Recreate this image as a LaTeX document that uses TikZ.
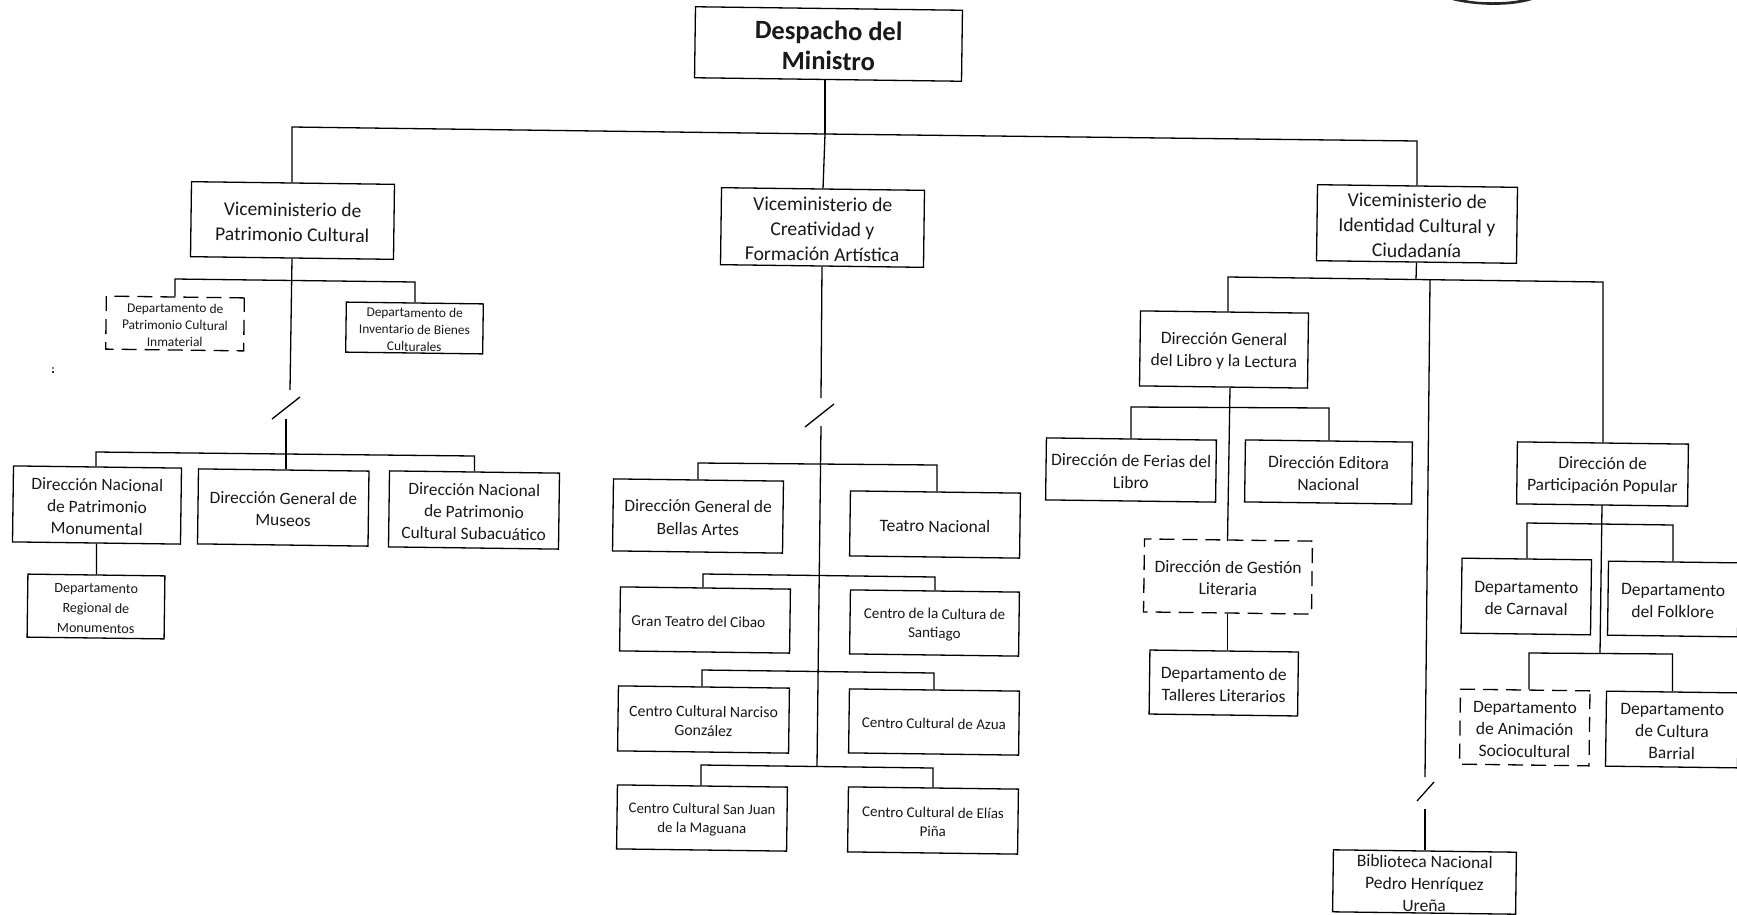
\documentclass[tikz,border=0pt]{standalone}
\usepackage{fontspec}
\setmainfont{Carlito}
\newcommand\bx[9][solidbox]{%
  \pgfmathsetmacro\bxcx{(#3+#5)/2}\pgfmathsetmacro\bxcy{(#4+#6)/2}%
  \pgfmathsetmacro\bxw{#5-#3}\pgfmathsetmacro\bxh{#6-#4}%
  \node[#1,minimum width=\bxw pt,minimum height=\bxh pt,font=\fontsize{#7}{#8}\selectfont] (#2) at (\bxcx,\bxcy) {\rule{0pt}{\dimexpr0.73em+2.6pt\relax}#9};}
\tikzset{
  solidbox/.style={draw=black,line width=1.3pt,inner sep=0pt,align=center,rotate=-0.75,text=black!90},
  dashbox/.style={solidbox,dash pattern=on 15pt off 8pt},
  conn/.style={draw=black,line width=1.3pt,line join=miter}
}
\begin{document}
\begin{tikzpicture}[x=1pt,y=-1pt]
\useasboundingbox (0,0) rectangle (1737,914);
% top
\bx{min}{695}{8.5}{962}{79.5}{26.5}{30}{\bfseries Despacho del\\\bfseries Ministro}
\bx{vmA}{191}{183}{394}{258}{19.5}{25}{Viceministerio de\\Patrimonio Cultural}
\bx{vmB}{721}{189}{924}{266}{19.7}{25}{Viceministerio de\\Creatividad y\\Formación Artística}
\bx{vmC}{1317}{186}{1517}{262}{19.7}{25}{Viceministerio de\\Identidad Cultural y\\Ciudadanía}
\coordinate (mL) at (292,127); \coordinate (mR) at (1417,141); \coordinate (mC) at (825,134);
\draw[conn] (mC |- min.south) -- (mC);
\draw[conn] (mC) -- (vmB.north);
\draw[conn] (vmA.north -| mL) -- (mL) -- (mC) -- (mR) -- (mR |- vmC.north);
% left branch
\bx[dashbox]{depA}{106}{297}{244}{350}{13.4}{17}{Departamento de\\Patrimonio Cultural\\Inmaterial}
\bx{depB}{346}{303}{483}{353}{13.4}{17}{Departamento de\\Inventario de Bienes\\Culturales}
\coordinate (aL) at (175,279); \coordinate (aR) at (415,282); \coordinate (aS) at (290,390);
\coordinate (aT) at (286,419); \coordinate (aK1) at (272,419); \coordinate (aK2) at (300,397);
\draw[conn] (vmA.south) -- (aS);
\draw[conn] (depA.north -| aL) -- (aL) -- (aR) -- (aR |- depB.north);
\draw[conn] (aK1) -- (aK2);
\bx{dnpm}{13}{467}{181}{543}{17.4}{22}{Dirección Nacional\\de Patrimonio\\Monumental}
\bx{dgm}{198}{470}{368.5}{545}{17.4}{22}{Dirección General de\\Museos}
\bx{dnpc}{389}{472}{559}{548}{17.4}{22}{Dirección Nacional\\de Patrimonio\\Cultural Subacuático}
\bx{drm}{27.5}{575}{164.5}{638}{14.1}{20}{Departamento\\Regional de\\Monumentos}
\coordinate (cL) at (96,452); \coordinate (cR) at (474.5,456);
\draw[conn] (aT) -- (aT |- dgm.north);
\draw[conn] (dnpm.north -| cL) -- (cL) -- (cR) -- (cR |- dnpc.north);
\draw[conn] (dnpm.south) -- (drm.north);
% middle branch
\coordinate (dS) at (821,398); \coordinate (dK1) at (805,427); \coordinate (dK2) at (834,404);
\coordinate (dT) at (821,426); \coordinate (dE) at (817,766);
\draw[conn] (vmB.south) -- (dS);
\draw[conn] (dK1) -- (dK2);
\draw[conn] (dT) -- (dE);
\bx{dgba}{613}{480}{783}{552}{17.4}{23}{Dirección General de\\Bellas Artes}
\bx{tn}{850}{492}{1020}{557}{17.5}{23}{Teatro Nacional}
\bx{gtc}{620}{588}{790}{652}{15.3}{19}{Gran Teatro del Cibao\hspace*{13pt}}
\bx{ccs}{850}{591}{1019}{655}{15.1}{19}{Centro de la Cultura de\\Santiago}
\bx{ccn}{618}{687}{789}{752}{15.8}{19}{Centro Cultural Narciso\\González}
\bx{cca}{849}{690}{1019}{754}{15}{19}{Centro Cultural de Azua}
\bx{ccj}{617}{786}{787}{850}{14.8}{19}{Centro Cultural San Juan\\de la Maguana}
\bx{cce}{848}{788}{1018}{853}{15}{19}{Centro Cultural de Elías\\Piña}
\coordinate (e1L) at (698,463); \coordinate (e1R) at (937,465);
\coordinate (e2L) at (703,574); \coordinate (e2R) at (935,577);
\coordinate (e3L) at (702,670); \coordinate (e3R) at (934,673);
\coordinate (e4L) at (701,765); \coordinate (e4R) at (933,768);
\draw[conn] (dgba.north -| e1L) -- (e1L) -- (e1R) -- (e1R |- tn.north);
\draw[conn] (gtc.north -| e2L) -- (e2L) -- (e2R) -- (e2R |- ccs.north);
\draw[conn] (ccn.north -| e3L) -- (e3L) -- (e3R) -- (e3R |- cca.north);
\draw[conn] (ccj.north -| e4L) -- (e4L) -- (e4R) -- (e4R |- cce.north);
% right branch
\coordinate (fL) at (1228,277); \coordinate (fR) at (1603,282); \coordinate (fC) at (1416,279.5);
\coordinate (fM) at (1430,280); \coordinate (fS) at (1425,777); \coordinate (fK1) at (1417,801);
\coordinate (fK2) at (1434,782); \coordinate (fT) at (1425,809);
\bx{dgl}{1140}{312}{1308}{387}{17.5}{22}{Dirección General\\del Libro y la Lectura}
\bx{dfl}{1046}{439}{1216}{501}{17.5}{22}{Dirección de Ferias del\\Libro}
\bx{den}{1245}{441}{1412}{503}{17.5}{22}{Dirección Editora\\Nacional}
\bx[dashbox]{dgs}{1144}{540}{1312}{613}{17.5}{22}{Dirección de Gestión\\Literaria}
\bx{dtl}{1149.5}{651}{1298}{715}{17.5}{22}{Departamento de\\Talleres Literarios}
\bx{dpp}{1517}{443}{1688}{505}{17.5}{22}{Dirección de\\Participación Popular}
\bx{dcar}{1461.5}{559}{1591}{634}{17.5}{22}{Departamento\\de Carnaval}
\bx{dfol}{1608}{562}{1738}{636}{17.5}{22}{Departamento\\del Folklore}
\bx[dashbox]{dani}{1460}{690}{1589.5}{765}{17.5}{22}{Departamento\\de Animación\\Sociocultural}
\bx{dcb}{1606}{692}{1738}{767}{17.5}{22}{Departamento\\de Cultura\\Barrial}
\bx{bib}{1333}{851}{1516}{913}{17.5}{22}{Biblioteca Nacional\\Pedro Henríquez\\Ureña}
\draw[conn] (vmC.south) -- (fC);
\draw[conn] (dgl.north -| fL) -- (fL) -- (fR) -- (fR |- dpp.north);
\draw[conn] (fM) -- (fS);
\draw[conn] (fK1) -- (fK2);
\draw[conn] (fT) -- (fT |- bib.north);
\coordinate (gT) at (1230,388); \coordinate (gL) at (1131,407); \coordinate (gR) at (1329,408);
\coordinate (gE) at (1227.5,541);
\draw[conn] (gT) -- (gE);
\draw[conn] (dfl.north -| gL) -- (gL) -- (gR) -- (gR |- den.north);
\draw[conn] (dgs.south) -- (dgs.south |- dtl.north);
\coordinate (hT) at (1602,505); \coordinate (hE) at (1600,653);
\coordinate (hL) at (1527,523); \coordinate (hR) at (1673,525);
\coordinate (iL) at (1529,653); \coordinate (iR) at (1672.5,654);
\draw[conn] (hT) -- (hE);
\draw[conn] (dcar.north -| hL) -- (hL) -- (hR) -- (hR |- dfol.north);
\draw[conn] (dani.north -| iL) -- (iL) -- (iR) -- (iR |- dcb.north);
% scan specks and seal fragment
\fill[black!50] (52,366.5) rectangle (54,368.5);
\fill[black!80] (52,371) rectangle (54,373);
\fill[black!85] (1452,0) .. controls (1475,6) and (1510,7) .. (1532,0) -- (1520,0) .. controls (1505,3) and (1480,3) .. (1465,0) -- cycle;
\end{tikzpicture}
\end{document}
